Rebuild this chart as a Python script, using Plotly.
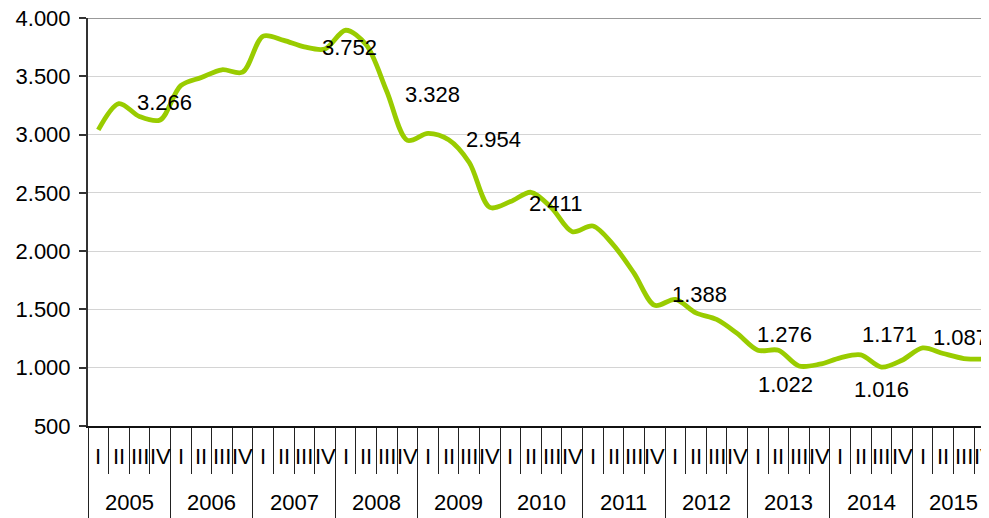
import plotly.graph_objects as go

# ---------------- data ----------------
years = ["2005", "2006", "2007", "2008", "2009", "2010",
         "2011", "2012", "2013", "2014", "2015"]
quarters = ["I", "II", "III", "IV"]

values = [
    3040, 3266, 3155, 3125,   # 2005
    3420, 3490, 3556, 3535,   # 2006
    3845, 3808, 3752, 3734,   # 2007
    3895, 3770, 3370, 2950,   # 2008
    3010, 2955, 2760, 2375,   # 2009
    2425, 2505, 2370, 2167,   # 2010
    2216, 2052, 1809, 1535,   # 2011
    1586, 1470, 1414, 1294,   # 2012
    1150, 1150, 1015, 1030,   # 2013
    1085, 1110, 1005, 1064,   # 2014
    1170, 1122, 1079, 1073,   # 2015
]

label_texts = ["3.266", "3.752", "3.328", "2.954", "2.411", "1.388",
               "1.276", "1.022", "1.171", "1.016", "1.087"]
# label anchor positions (category index, value units)
label_x = [1.82, 10.81, 14.85, 17.80, 20.83, 27.79, 31.91, 31.94, 37.01, 36.60, 40.45]
label_y = [3277, 3749, 3345, 2956, 2411, 1630, 1282, 857, 1282, 814, 1258]

# ---------------- figure ----------------
n = len(values)
idx = list(range(n))
quarter_labels = [quarters[i % 4] for i in idx]
FONT = "Liberation Sans, Arial, Helvetica, sans-serif"
XR = [-0.5, 43.22]

fig = go.Figure()
fig.add_trace(go.Scatter(
    x=idx, y=values, mode="lines",
    line=dict(color="#99CC00", width=4.8, shape="spline", smoothing=0.9),
    showlegend=False, hoverinfo="skip",
))
# dummy trace so the year-divider axis is drawn
fig.add_trace(go.Scatter(x=[None], y=[None], xaxis="x2", yaxis="y",
                         showlegend=False, hoverinfo="skip"))

annotations = []
for t, xx, yy in zip(label_texts, label_x, label_y):
    annotations.append(dict(x=xx, y=yy, xref="x", yref="y", text=t,
                            showarrow=False, xanchor="left", yanchor="middle",
                            borderpad=0, font=dict(size=22, color="#000", family=FONT)))
for i, q in zip(idx, quarter_labels):
    annotations.append(dict(x=i, y=0, xref="x", yref="paper", yshift=-30.5,
                            text=q, showarrow=False, xanchor="center", yanchor="middle",
                            borderpad=0, font=dict(size=22, color="#000", family=FONT)))
for k, yr in enumerate(years):
    annotations.append(dict(x=4 * k + 1.5, y=0, xref="x", yref="paper", yshift=-76,
                            text=yr, showarrow=False, xanchor="center", yanchor="middle",
                            borderpad=0, font=dict(size=22, color="#000", family=FONT)))

fig.update_layout(
    width=981, height=510,
    margin=dict(l=80, r=0, t=10, b=92, autoexpand=False),
    paper_bgcolor="white", plot_bgcolor="white",
    separators=",.",
    font=dict(family=FONT, size=22, color="#000"),
    xaxis=dict(range=XR, tickmode="array", automargin=False,
               tickvals=[i - 0.5 for i in range(n + 1)],
               ticks="outside", ticklen=46, tickwidth=1, tickcolor="#222",
               showticklabels=False, showgrid=False, zeroline=False,
               showline=True, linecolor="#111", linewidth=1.5),
    xaxis2=dict(range=XR, overlaying="x", anchor="y", side="bottom", automargin=False,
                tickmode="array", tickvals=[4 * k - 0.5 for k in range(len(years) + 1)],
                ticks="outside", ticklen=100, tickwidth=1, tickcolor="#222",
                showticklabels=False, showgrid=False, zeroline=False, showline=False),
    yaxis=dict(range=[500, 4000], tickmode="linear", tick0=500, dtick=500,
               tickformat=",d", ticks="outside", ticklen=7, tickwidth=1.5,
               tickcolor="#333", ticklabelstandoff=4, automargin=False,
               ticklabeloverflow="allow",
               showgrid=True, gridcolor="#d4d4d4", gridwidth=1.3, zeroline=False,
               showline=True, linecolor="#333", linewidth=2,
               tickfont=dict(size=22, color="#000", family=FONT)),
    shapes=[dict(type="line", xref="paper", yref="y", x0=0, x1=1, y0=4000, y1=4000,
                 line=dict(color="#999", width=2))],
    annotations=annotations,
)

fig.write_html("out.html")
